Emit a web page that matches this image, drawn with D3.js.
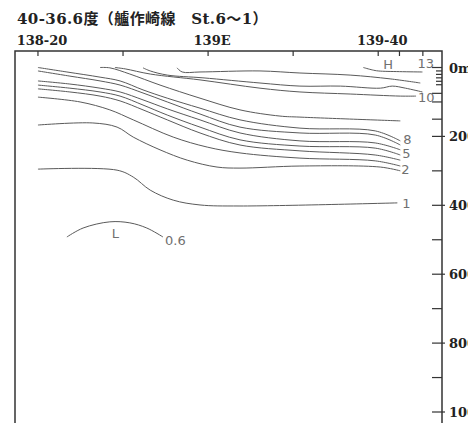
<!DOCTYPE html>
<html>
<head>
<meta charset="utf-8">
<script src="https://cdn.jsdelivr.net/npm/d3@7"></script>
<style>
    body { margin: 0; background: #fff; }
    .frame { stroke: #333; stroke-width: 1.5; fill: none; }
    .tick { stroke: #333; stroke-width: 1.2; }
    .iso { stroke: #5a5a5a; stroke-width: 1; fill: none; }
    .iso-label { font-family: "DejaVu Sans", sans-serif; font-size: 13px; fill: #707070; }
    .axis-text { font-family: "DejaVu Serif", "Noto Sans CJK JP", serif; font-weight: bold; fill: #222; }
</style>
</head>
<body>
<div id="chart"></div>
<script>
// title and axes
const titleText = "40-36.6度（艫作崎線　St.6～1）";
const lonTicks = [0, 20, 40, 60, 80, 85, 90.5];          // minutes east of 138-20
const lonLabelValues = [0, 40, 80];
const lonLabelText = ["138-20", "139E", "139-40"];
const depthTicks = [0, 10, 20, 30, 40, 50, 75, 100, 150, 200, 300, 400, 500, 600, 700, 800, 900, 1000];
const depthLabelValues = [0, 200, 400, 600, 800, 1000];
const depthLabelText = ["0m", "200", "400", "600", "800", "1000"];

// isotherms: [longitude minutes from 138-20, depth m]
const t13 = [[76.5, 0], [78.6, 7], [80, 10], [85, 12], [90.4, 13]];
const t12 = [[32.7, 1], [33.9, 13], [38.1, 13], [52.2, 10], [61.6, 16], [73.4, 22], [82.8, 33], [89.9, 45]];
const t11 = [[24.7, 1], [26.4, 10], [30.4, 22], [38.8, 30], [52.2, 45], [61.6, 54], [71.1, 54], [80.5, 60], [83.3, 54], [86.4, 60], [90.4, 71]];
const t10 = [[18.1, 0], [20.5, 4], [26.4, 19], [38.1, 36], [52.2, 60], [61.6, 71], [73.4, 77], [85.2, 83], [88.9, 83]];
const t9 = [[14.6, 0], [16.9, 1], [21.6, 19], [28.7, 51], [38.1, 89], [47.5, 123], [56.9, 141], [61.6, 144], [85.2, 155]];
const t8 = [[0, 0], [6.8, 13], [14.6, 28], [19.3, 39], [24.7, 65], [30.4, 89], [38.1, 118], [47.5, 152], [61.6, 176], [79.3, 184], [85.2, 213]];
const t7 = [[0, 10], [7.5, 25], [14.6, 39], [19.3, 51], [24.7, 74], [30.4, 100], [38.1, 135], [47.5, 173], [61.6, 190], [79.3, 196], [85.2, 225]];
const t6 = [[0, 39], [7.5, 48], [14.6, 60], [19.3, 71], [24.7, 94], [30.4, 120], [38.1, 152], [47.5, 190], [61.6, 213], [79.3, 219], [85.2, 239]];
const t5 = [[0, 51], [7.5, 60], [14.6, 71], [19.3, 83], [24.7, 109], [30.4, 138], [38.1, 173], [47.5, 210], [61.6, 228], [79.3, 234], [85.2, 254]];
const t4 = [[0, 62], [7.5, 71], [14.6, 83], [19.3, 97], [24.7, 123], [30.4, 152], [38.1, 190], [47.5, 225], [61.6, 242], [79.3, 254], [85.2, 269]];
const t3 = [[0, 86], [9.9, 100], [16.9, 123], [22.4, 152], [31.8, 202], [39.8, 231], [47.5, 248], [61.6, 263], [79.3, 271], [85.2, 286]];
const t2 = [[0, 167], [12.9, 161], [18.6, 173], [22.4, 202], [28.7, 239], [35.1, 269], [42.1, 289], [47.5, 292], [61.6, 286], [80.5, 289], [85.2, 300]];
const t1 = [[0, 295], [18.6, 298], [22.4, 318], [26.4, 356], [31.8, 385], [38.1, 399], [47.5, 402], [84.5, 393]];
const t06 = [[6.8, 492], [10.6, 466], [16.9, 448], [21.6, 451], [25.6, 466], [29.4, 492]];

const levels = [13, 12, 11, 10, 9, 8, 7, 6, 5, 4, 3, 2, 1, 0.6];
const isotherms = [t13, t12, t11, t10, t9, t8, t7, t6, t5, t4, t3, t2, t1, t06];
const labelledLevels = [13, 10, 8, 5, 2, 1, 0.6];

class SectionChart {
    constructor(parentElement) {
        this.parentElement = parentElement;
        this.width = 468;
        this.height = 423;
        this.frame = {top: 51, left: 15, right: 442};
        this.initVis();
    }

    initVis() {
        let vis = this;
        vis.svg = d3.select("#" + vis.parentElement).append("svg")
            .attr("width", vis.width)
            .attr("height", vis.height);

        vis.x = d3.scaleLinear().domain([-5.4, 95]).range([vis.frame.left, vis.frame.right]);
        vis.y = d3.scaleLinear().domain([0, 1000]).range([67.5, 412]);

        // title + longitude labels
        vis.svg.append("text")
            .attr("class", "axis-text")
            .attr("x", 17).attr("y", 24)
            .style("font-size", "15px")
            .style("letter-spacing", "0.4px")
            .text(titleText);

        vis.svg.selectAll(".lon-label")
            .data(lonLabelValues)
            .enter().append("text")
            .attr("class", "axis-text lon-label")
            .attr("x", d => vis.x(d) + 4)
            .attr("y", 45)
            .attr("text-anchor", "middle")
            .style("font-size", "13px")
            .text((d, i) => lonLabelText[i]);

        // frame (open at the bottom)
        vis.svg.append("path")
            .attr("class", "frame")
            .attr("d", "M" + vis.frame.left + "," + vis.height + "V" + vis.frame.top +
                "H" + vis.frame.right + "V" + vis.height);

        // top ticks
        vis.svg.selectAll(".top-tick")
            .data(lonTicks)
            .enter().append("line")
            .attr("class", "tick")
            .attr("x1", d => vis.x(d)).attr("x2", d => vis.x(d))
            .attr("y1", vis.frame.top).attr("y2", vis.frame.top + 5);

        // depth ticks on the right side
        vis.svg.selectAll(".depth-tick")
            .data(depthTicks)
            .enter().append("line")
            .attr("class", "tick")
            .attr("x1", d => vis.frame.right - (d > 0 && d <= 50 ? 6 : 10))
            .attr("x2", d => vis.frame.right + (depthLabelValues.includes(d) && d > 0 ? 3 : 0))
            .attr("y1", d => vis.y(d)).attr("y2", d => vis.y(d));

        vis.svg.selectAll(".depth-label")
            .data(depthLabelValues)
            .enter().append("text")
            .attr("class", "axis-text")
            .attr("x", 449)
            .attr("y", d => vis.y(d) + 5)
            .style("font-size", "13px")
            .text((d, i) => depthLabelText[i]);

        this.updateVis();
    }

    updateVis() {
        let vis = this;
        let line = d3.line()
            .x(d => vis.x(d[0]))
            .y(d => vis.y(d[1]))
            .curve(d3.curveCatmullRom.alpha(0.5));

        vis.svg.selectAll(".iso")
            .data(isotherms)
            .enter().append("path")
            .attr("class", "iso")
            .attr("d", line);

        // where each label sits relative to the end of its line
        let offsets = {13: [-5, -4], 10: [2, 6], 8: [3, 3], 5: [2, 3], 2: [1, 3], 1: [5, 5], 0.6: [2, 8]};
        labelledLevels.forEach(function(lv) {
            let pts = isotherms[levels.indexOf(lv)];
            let end = pts[pts.length - 1];
            vis.svg.append("text")
                .attr("class", "iso-label")
                .attr("x", vis.x(end[0]) + offsets[lv][0])
                .attr("y", vis.y(end[1]) + offsets[lv][1])
                .text(lv);
        });

        // H over the warm core, L under the cold dome
        let hPt = t13[0], lPt = t06[2];
        vis.svg.append("text").attr("class", "iso-label")
            .attr("x", vis.x(hPt[0]) + 20).attr("y", vis.y(hPt[1]) + 1)
            .text("H");
        vis.svg.append("text").attr("class", "iso-label")
            .attr("x", vis.x(lPt[0]) + 2).attr("y", vis.y(lPt[1]) + 16)
            .text("L");
    }
}

new SectionChart("chart");
</script>
</body>
</html>
